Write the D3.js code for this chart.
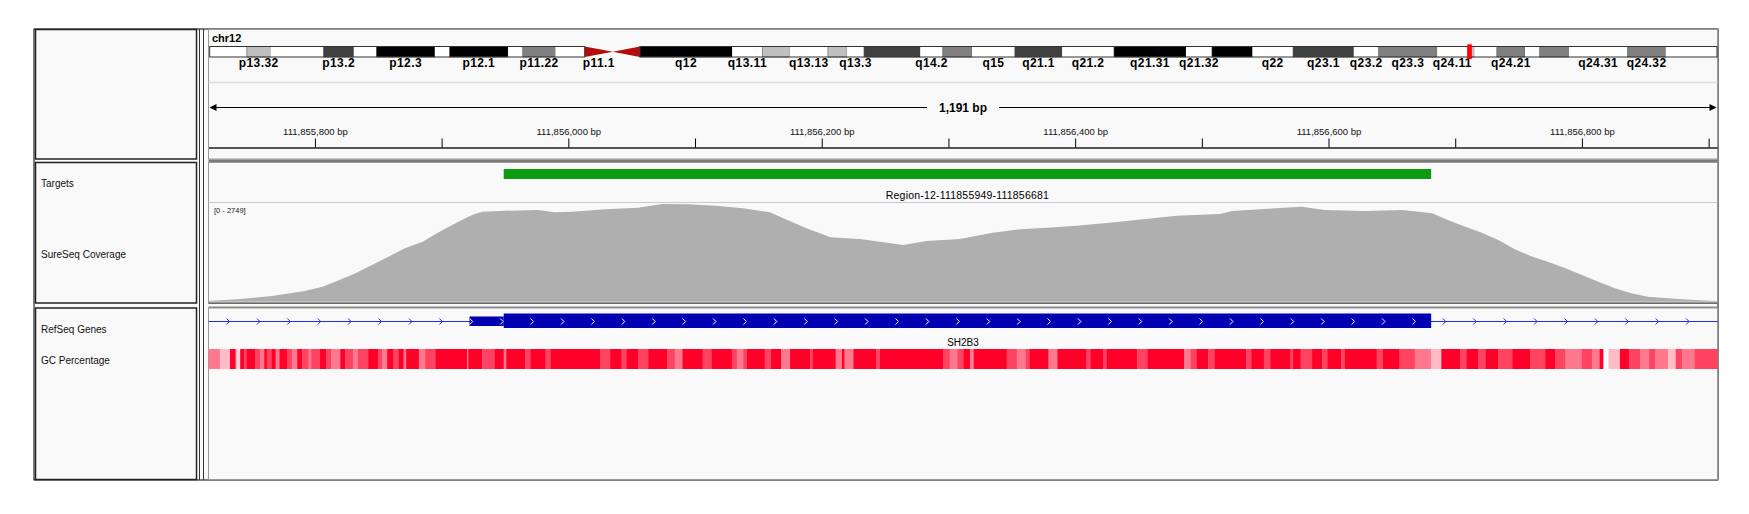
<!DOCTYPE html>
<html>
<head>
<meta charset="utf-8">
<script src="https://cdn.jsdelivr.net/npm/d3@7"></script>
<style>
  body { margin: 0; background: #fff; }
  text { font-family: "Liberation Sans", Arial, sans-serif; }
</style>
</head>
<body>
<svg id="chart" width="1749" height="514"></svg>
<script>
// --- chr12 cytobands (hg19, Mb) ---
var chrName = "chr12";
var chrLength = 133.85;
var bandNames = ["p13.33","p13.32","p13.31","p13.2","p13.1","p12.3","p12.2","p12.1","p11.23","p11.22","p11.21","p11.1",
  "q11","q12","q13.11","q13.12","q13.13","q13.2","q13.3","q14.1","q14.2","q14.3","q15","q21.1","q21.2","q21.31",
  "q21.32","q21.33","q22","q23.1","q23.2","q23.3","q24.11","q24.12","q24.13","q24.21","q24.22","q24.23","q24.31","q24.32","q24.33"];
var bandStart = [0,3.3,5.4,10.1,12.8,14.8,20.0,21.3,26.5,27.8,30.7,33.3,
  35.8,38.2,46.4,49.1,51.5,54.9,56.6,58.1,63.1,65.1,67.7,71.5,75.7,80.3,
  86.7,89.0,92.6,96.2,101.6,103.8,109.0,111.7,112.3,114.3,116.8,118.1,120.7,125.9,129.3];
var bandEnd = [3.3,5.4,10.1,12.8,14.8,20.0,21.3,26.5,27.8,30.7,33.3,35.8,
  38.2,46.4,49.1,51.5,54.9,56.6,58.1,63.1,65.1,67.7,71.5,75.7,80.3,86.7,
  89.0,92.6,96.2,101.6,103.8,109.0,111.7,112.3,114.3,116.8,118.1,120.7,125.9,129.3,133.85];
var bandStain = ["gneg","gpos25","gneg","gpos75","gneg","gpos100","gneg","gpos100","gneg","gpos50","gneg","acen",
  "acen","gpos100","gneg","gpos25","gneg","gpos25","gneg","gpos75","gneg","gpos50","gneg","gpos75","gneg","gpos100",
  "gneg","gpos100","gneg","gpos75","gneg","gpos50","gneg","gpos25","gneg","gpos50","gneg","gpos50","gneg","gpos50","gneg"];
var bandLabels = ["p13.32","p13.2","p12.3","p12.1","p11.22","p11.1","q12","q13.11","q13.13","q13.3","q14.2","q15",
  "q21.1","q21.2","q21.31","q21.32","q22","q23.1","q23.2","q23.3","q24.11","q24.21","q24.31","q24.32"];
var locusMb = 111.856;

// --- view window (bp) ---
var viewStart = 111855716;
var viewEnd = 111856907;
var tickStep = 100;

// --- targets ---
var targetStart = 111855949;
var targetEnd = 111856681;
var targetName = "Region-12-111855949-111856681";

// --- coverage: bp offset from viewStart, depth ---
var covMax = 2749;
var covOffset = [0,1,23,50,76,90,102,116,129,142,155,169,181,195,208,216,234,260,273,287,313,339,358,378,400,
  422,443,457,472,491,514,530,548,567,593,619,643,662,685,711,738,764,798,808,842,863,881,913,942,966,978,
  992,1005,1018,1031,1045,1057,1071,1084,1097,1110,1123,1136,1163,1189,1191];
var covDepth = [25,28,66,158,296,415,581,786,1015,1245,1477,1660,1909,2169,2398,2489,2517,2536,2473,2489,2556,2600,2702,2694,2655,
  2583,2473,2260,2030,1781,1734,1660,1568,1679,1734,1909,2011,2047,2102,2185,2279,2379,2426,2509,2583,2628,2536,2509,2536,2445,2260,
  2075,1909,1707,1449,1245,1106,924,739,553,371,232,138,66,19,18];

// --- gene ---
var geneName = "SH2B3";
var utrStart = 111855922;
var cdsStart = 111855949;
var cdsEnd = 111856681;

// --- GC percentage: bin start (bp offset from viewStart), GC % ---
var gcOffset = [0,9,17,21,22,25,28,30,37,41,44,46,50,53,56,62,66,70,74,79,81,88,93,97,104,108,114,118,126,134,137,141,146,150,154,156,166,171,179,
  204,205,216,226,233,235,250,254,266,270,309,317,326,330,339,347,362,368,374,390,
  397,413,417,422,425,439,444,452,459,475,477,495,500,502,509,527,530,580,585,591,596,601,604,630,638,645,648,663,670,
  693,696,706,709,733,741,770,775,780,789,
  794,819,823,833,838,854,856,862,871,879,883,894,897,922,927,940,952,965,973,988,993,1002,1008,1018,1029,1043,1055,
  1063,1071,1084,1092,1098,1101,1105,1114,1121,1130,1137,1142,1152,1158,1163,1173,1191];
var gcPct = [50,40,68,58,36,68,58,68,58,50,68,58,68,50,68,58,50,68,58,50,58,68,58,50,68,58,50,58,68,58,50,68,58,68,50,68,50,58,68,
  50,68,58,68,50,68,58,68,58,68,58,68,58,68,58,68,58,50,68,58,
  68,58,50,58,68,58,68,50,68,58,68,50,68,50,68,58,68,58,50,58,68,50,68,58,50,58,68,50,68,
  58,68,58,68,58,68,50,58,68,58,
  68,58,68,58,68,58,68,58,68,58,68,58,68,58,68,58,50,40,68,58,68,58,68,58,68,58,68,
  58,50,58,50,68,30,40,68,58,50,58,50,40,58,50,58,58];

var trackNames = ["Targets", "SureSeq Coverage", "RefSeq Genes", "GC Percentage"];
var trackNameY = [186.5, 257.5, 333, 363.5];

var svg = d3.select("#chart");

// layout
var frameL = 34, frameT = 29, frameR = 1718, frameB = 480;
var dataX0 = 208.5, dataX1 = 1717.5;
var sections = [[29, 159.5], [162, 303.5], [307.5, 480]];

svg.append("rect").attr("x", frameL).attr("y", frameT)
  .attr("width", frameR - frameL).attr("height", frameB - frameT)
  .attr("fill", "#f9f9f9").attr("stroke", "#000").attr("stroke-width", 1);

sections.forEach(function(s) {
  svg.append("rect").attr("x", 35.5).attr("y", s[0] + 0.5)
    .attr("width", 161).attr("height", s[1] - s[0] - 1)
    .attr("fill", "#f9f9f9").attr("stroke", "#222").attr("stroke-width", 1.5);
  svg.append("rect").attr("x", dataX0).attr("y", s[0] + 0.5)
    .attr("width", dataX1 - dataX0).attr("height", s[1] - s[0] - 1)
    .attr("fill", "#f9f9f9").attr("stroke", "#999").attr("stroke-width", 1);
});
// section dividers
svg.append("rect").attr("x", dataX0).attr("y", 159.5).attr("width", dataX1 - dataX0).attr("height", 2.5).attr("fill", "#7a7a7a");
svg.append("rect").attr("x", dataX0).attr("y", 302.5).attr("width", dataX1 - dataX0).attr("height", 1.5).attr("fill", "#6a6a6a");
svg.append("rect").attr("x", dataX0).attr("y", 306.5).attr("width", dataX1 - dataX0).attr("height", 1.5).attr("fill", "#8a8a8a");
[199.5, 203.5].forEach(function(xx) {
  svg.append("line").attr("x1", xx).attr("x2", xx).attr("y1", frameT).attr("y2", frameB)
    .attr("stroke", "#333").attr("stroke-width", 1);
});

// ---------- ideogram ----------
var xi = d3.scaleLinear().domain([0, chrLength]).range([209.7, 1717]);
var stainColor = { gneg: "#ffffff", gpos25: "#c0c0c0", gpos50: "#808080", gpos75: "#404040", gpos100: "#000000" };
var ideoTop = 46.5, ideoH = 10.5, ideoMid = ideoTop + ideoH / 2;

svg.append("text").attr("x", 212).attr("y", 42).attr("font-size", 11).attr("font-weight", "bold").text(chrName);

var bands = bandNames.map(function(n, i) {
  return { name: n, s: bandStart[i], e: bandEnd[i], stain: bandStain[i] };
});
var gIdeo = svg.append("g");
gIdeo.selectAll("rect.band").data(bands.filter(function(b) { return b.stain !== "acen"; }))
  .enter().append("rect").attr("class", "band")
  .attr("x", function(b) { return xi(b.s); })
  .attr("y", ideoTop)
  .attr("width", function(b) { return xi(b.e) - xi(b.s); })
  .attr("height", ideoH)
  .attr("fill", function(b) { return stainColor[b.stain]; })
  .attr("stroke", function(b) { return b.stain === "gneg" ? "none" : "#555"; })
  .attr("stroke-width", 0.6);

var acen = bands.filter(function(b) { return b.stain === "acen"; });
gIdeo.selectAll("path.acen").data(acen).enter().append("path")
  .attr("d", function(b) {
    var a = xi(b.s), c = xi(b.e);
    if (b.name[0] === "p") return "M" + a + "," + ideoTop + "L" + c + "," + ideoMid + "L" + a + "," + (ideoTop + ideoH) + "Z";
    return "M" + c + "," + ideoTop + "L" + a + "," + ideoMid + "L" + c + "," + (ideoTop + ideoH) + "Z";
  })
  .attr("fill", "#b40c0c");

var cenS = d3.min(acen, function(b) { return b.s; }), cenE = d3.max(acen, function(b) { return b.e; });
[[0, cenS], [cenE, chrLength]].forEach(function(arm) {
  gIdeo.append("rect").attr("x", xi(arm[0])).attr("y", ideoTop)
    .attr("width", xi(arm[1]) - xi(arm[0])).attr("height", ideoH)
    .attr("fill", "none").attr("stroke", "#333").attr("stroke-width", 1);
});

gIdeo.selectAll("text.blab").data(bands.filter(function(b) { return bandLabels.indexOf(b.name) >= 0; }))
  .enter().append("text").attr("class", "blab")
  .attr("x", function(b) { return (xi(b.s) + xi(b.e)) / 2; })
  .attr("y", 66.5)
  .attr("text-anchor", "middle")
  .attr("font-family", "'Liberation Serif', 'Times New Roman', serif")
  .attr("font-weight", "bold").attr("font-size", 12).attr("letter-spacing", 0.4)
  .text(function(b) { return b.name; });

gIdeo.append("rect").attr("x", xi(locusMb) - 2).attr("y", 44.3).attr("width", 4.5).attr("height", 14.7).attr("fill", "#ff0000");

svg.append("line").attr("x1", dataX0).attr("x2", dataX1).attr("y1", 82.5).attr("y2", 82.5)
  .attr("stroke", "#dcdce4").attr("stroke-width", 1.5);

// ---------- ruler ----------
var x = d3.scaleLinear().domain([viewStart, viewEnd]).range([dataX0, dataX1]);
var rulerY = 107.5;
svg.append("line").attr("x1", dataX0 + 3).attr("x2", dataX1 - 3).attr("y1", rulerY).attr("y2", rulerY)
  .attr("stroke", "#000").attr("stroke-width", 1);
svg.append("path").attr("d", "M" + (dataX0 + 1) + "," + rulerY + "l7,-3.5v7z").attr("fill", "#000");
svg.append("path").attr("d", "M" + (dataX1 - 1) + "," + rulerY + "l-7,-3.5v7z").attr("fill", "#000");
var spanLabel = d3.format(",")(viewEnd - viewStart) + " bp";
var midX = (dataX0 + dataX1) / 2;
svg.append("rect").attr("x", midX - 36).attr("y", rulerY - 8).attr("width", 72).attr("height", 16).attr("fill", "#f9f9f9");
svg.append("text").attr("x", midX).attr("y", rulerY + 4.5).attr("text-anchor", "middle")
  .attr("font-size", 12).attr("font-weight", "bold").text(spanLabel);

var ticks = d3.range(Math.ceil(viewStart / tickStep) * tickStep, viewEnd, tickStep);
var axis = d3.axisTop(x).tickValues(ticks).tickSize(9).tickSizeOuter(0).tickPadding(4)
  .tickFormat(function(d) { return (d / tickStep) % 2 === 0 ? d3.format(",")(d) + " bp" : ""; });
var gAx = svg.append("g").attr("transform", "translate(0,147.5)").call(axis);
gAx.select(".domain").attr("stroke", "#555").attr("stroke-width", 2);
gAx.selectAll(".tick line").attr("stroke", "#000");
gAx.selectAll(".tick text").attr("font-size", 9.5).attr("fill", "#111")
  .attr("font-family", "'Liberation Sans', Arial, sans-serif");

// ---------- track names ----------
trackNames.forEach(function(n, i) {
  svg.append("text").attr("x", 41).attr("y", trackNameY[i]).attr("font-size", 10).attr("fill", "#111").text(n);
});

// ---------- targets ----------
svg.append("rect").attr("x", x(targetStart)).attr("y", 169)
  .attr("width", x(targetEnd) - x(targetStart)).attr("height", 10).attr("fill", "#0e9a0e");
svg.append("text").attr("x", (x(targetStart) + x(targetEnd)) / 2).attr("y", 199.3)
  .attr("text-anchor", "middle").attr("font-size", 10.5).attr("letter-spacing", 0.2).text(targetName);
svg.append("line").attr("x1", dataX0).attr("x2", dataX1).attr("y1", 202.5).attr("y2", 202.5)
  .attr("stroke", "#c8c8d4").attr("stroke-width", 1.2);

// ---------- coverage ----------
var yc = d3.scaleLinear().domain([0, covMax]).range([301.7, 202.3]);
var covData = covOffset.map(function(o, i) { return { p: viewStart + o, v: covDepth[i] }; });
svg.append("path").datum(covData)
  .attr("d", d3.area().x(function(d) { return x(d.p); }).y0(yc(0)).y1(function(d) { return yc(d.v); }))
  .attr("fill", "#afafaf");
svg.append("text").attr("x", 214).attr("y", 213).attr("font-size", 7.5).attr("fill", "#222")
  .text("[0 - " + covMax + "]");

// ---------- RefSeq gene ----------
var geneY = 321.5;
svg.append("line").attr("x1", dataX0).attr("x2", dataX1).attr("y1", geneY).attr("y2", geneY)
  .attr("stroke", "#2a2ae6").attr("stroke-width", 1);
svg.append("rect").attr("x", x(utrStart)).attr("y", geneY - 5).attr("width", x(cdsStart) - x(utrStart)).attr("height", 9.5).attr("fill", "#0000b2");
svg.append("rect").attr("x", x(cdsStart)).attr("y", geneY - 8).attr("width", x(cdsEnd) - x(cdsStart)).attr("height", 14.5).attr("fill", "#0000b2");
var chevrons = d3.range(viewStart + 15.4, viewEnd, 24);
svg.append("g").selectAll("path").data(chevrons).enter().append("path")
  .attr("d", function(p) { var cx = x(p); return "M" + (cx - 1.5) + "," + (geneY - 3) + "L" + (cx + 1.5) + "," + geneY + "L" + (cx - 1.5) + "," + (geneY + 3); })
  .attr("fill", "none")
  .attr("stroke", function(p) { return (p >= utrStart && p <= cdsEnd) ? "#ffffff" : "#2a2ae6"; })
  .attr("stroke-width", 1);
svg.append("text").attr("x", midX).attr("y", 346.3).attr("text-anchor", "middle").attr("font-size", 10).text(geneName);

// ---------- GC percentage ----------
var gcColor = d3.scaleLinear().domain([30, 68]).range(["#ffffff", "#ff0028"]).clamp(true);
var gcBins = gcOffset.slice(0, -1).map(function(o, i) {
  return { s: viewStart + o, e: viewStart + gcOffset[i + 1], pct: gcPct[i] };
});
svg.append("g").selectAll("rect").data(gcBins).enter().append("rect")
  .attr("x", function(d) { return x(d.s); })
  .attr("y", 349)
  .attr("width", function(d) { return x(d.e) - x(d.s) + 0.3; })
  .attr("height", 20)
  .attr("fill", function(d) { return gcColor(d.pct); });
</script>
</body>
</html>
